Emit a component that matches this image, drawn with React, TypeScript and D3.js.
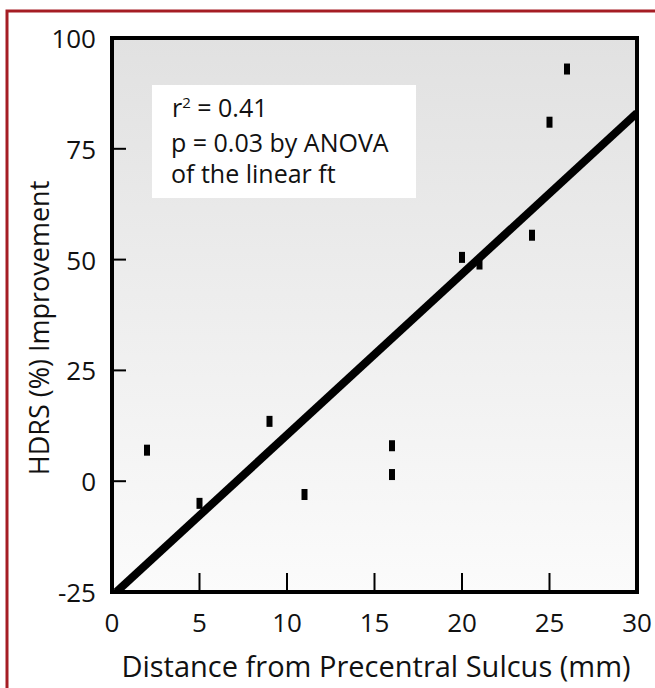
import React from "react";
import * as d3 from "d3";

const distances = [2, 5, 9, 11, 16, 16, 20, 21, 24, 25, 26];
const improvements = [7, -5, 13.5, -3, 8, 1.5, 50.5, 49, 55.5, 81, 93];
const xTicks = [0, 5, 10, 15, 20, 25, 30];
const yTicks = [-25, 0, 25, 50, 75, 100];
const statLines = ["p = 0.03 by ANOVA", "of the linear ft"];

const W = 655;
const H = 688;
const M = { left: 112, right: 637, top: 38, bottom: 592 };
const FONT = "'Open Sans', 'Noto Sans', sans-serif";

export default function App() {
  const x = d3.scaleLinear().domain([0, 30]).range([M.left, M.right]);
  const y = d3.scaleLinear().domain([-25, 100]).range([M.bottom, M.top]);

  const mx = d3.mean(distances)!;
  const my = d3.mean(improvements)!;
  let sxy = 0, sxx = 0;
  distances.forEach((d, i) => {
    sxy += (d - mx) * (improvements[i] - my);
    sxx += (d - mx) * (d - mx);
  });
  const slope = sxy / sxx;
  const intercept = my - slope * mx;
  const x0 = (-25 - intercept) / slope;
  const line = d3.line<number>().x((d) => x(d)).y((d) => y(intercept + slope * d));

  return (
    <svg width={W} height={H} style={{ position: "absolute", left: 0, top: 0, background: "#fff" }}>
      <defs>
        <linearGradient id="bg" x1="0" y1="0" x2="0" y2="1">
          <stop offset="0" stopColor="#e1e1e1" />
          <stop offset="1" stopColor="#fbfbfb" />
        </linearGradient>
        <clipPath id="clip">
          <rect x={M.left} y={M.top} width={M.right - M.left} height={M.bottom - M.top} />
        </clipPath>
      </defs>
      <rect x={0} y={0} width={W} height={H} fill="#fff" />
      {/* red border */}
      <path d={`M${7},${H} V${11} H${W}`} fill="none" stroke="#a51d24" strokeWidth={3} />
      {/* plot background */}
      <rect x={M.left} y={M.top} width={M.right - M.left} height={M.bottom - M.top} fill="url(#bg)" />
      {/* stats box */}
      <rect x={152} y={85} width={264} height={113} fill="#fff" />
      <text x={172} y={117} fontFamily={FONT} fontSize={25} fill="#111">
        r<tspan dy={-9} fontSize={15}>2</tspan>
        <tspan dy={9}> = 0.41</tspan>
      </text>
      {statLines.map((s, i) => (
        <text key={s} x={171} y={152 + i * 31} fontFamily={FONT} fontSize={25} fill="#111">
          {s}
        </text>
      ))}
      {/* ticks */}
      {yTicks.slice(1, -1).map((t) => (
        <line key={"yt" + t} x1={M.left} x2={M.left + 14} y1={y(t)} y2={y(t)} stroke="#000" strokeWidth={2} />
      ))}
      {xTicks.slice(1, -1).map((t) => (
        <line key={"xt" + t} x1={x(t)} x2={x(t)} y1={M.bottom} y2={M.bottom - 19} stroke="#000" strokeWidth={2} />
      ))}
      {/* regression line */}
      <path
        d={line([Math.max(0, x0), 30]) || ""}
        clipPath="url(#clip)"
        fill="none"
        stroke="#000"
        strokeWidth={8}
      />
      {/* points */}
      {distances.map((d, i) => (
        <rect key={i} x={x(d) - 3} y={y(improvements[i]) - 5.5} width={6} height={11} fill="#000" />
      ))}
      {/* frame */}
      <rect
        x={M.left}
        y={M.top}
        width={M.right - M.left}
        height={M.bottom - M.top}
        fill="none"
        stroke="#000"
        strokeWidth={4}
      />
      {/* tick labels */}
      {yTicks.map((t) => (
        <text
          key={"yl" + t}
          x={96}
          y={y(t)}
          textAnchor="end"
          dominantBaseline="central"
          fontFamily={FONT}
          fontSize={26}
          fill="#111"
        >
          {t}
        </text>
      ))}
      {xTicks.map((t) => (
        <text
          key={"xl" + t}
          x={x(t)}
          y={622}
          textAnchor="middle"
          dominantBaseline="central"
          fontFamily={FONT}
          fontSize={26}
          fill="#111"
        >
          {t}
        </text>
      ))}
      <text
        x={376}
        y={665}
        textAnchor="middle"
        dominantBaseline="central"
        fontFamily={FONT}
        fontSize={29}
        fill="#111"
      >
        Distance from Precentral Sulcus (mm)
      </text>
      <text
        transform={`translate(38, 328) rotate(-90)`}
        textAnchor="middle"
        dominantBaseline="central"
        fontFamily={FONT}
        fontSize={27}
        fill="#111"
      >
        HDRS (%) Improvement
      </text>
    </svg>
  );
}
